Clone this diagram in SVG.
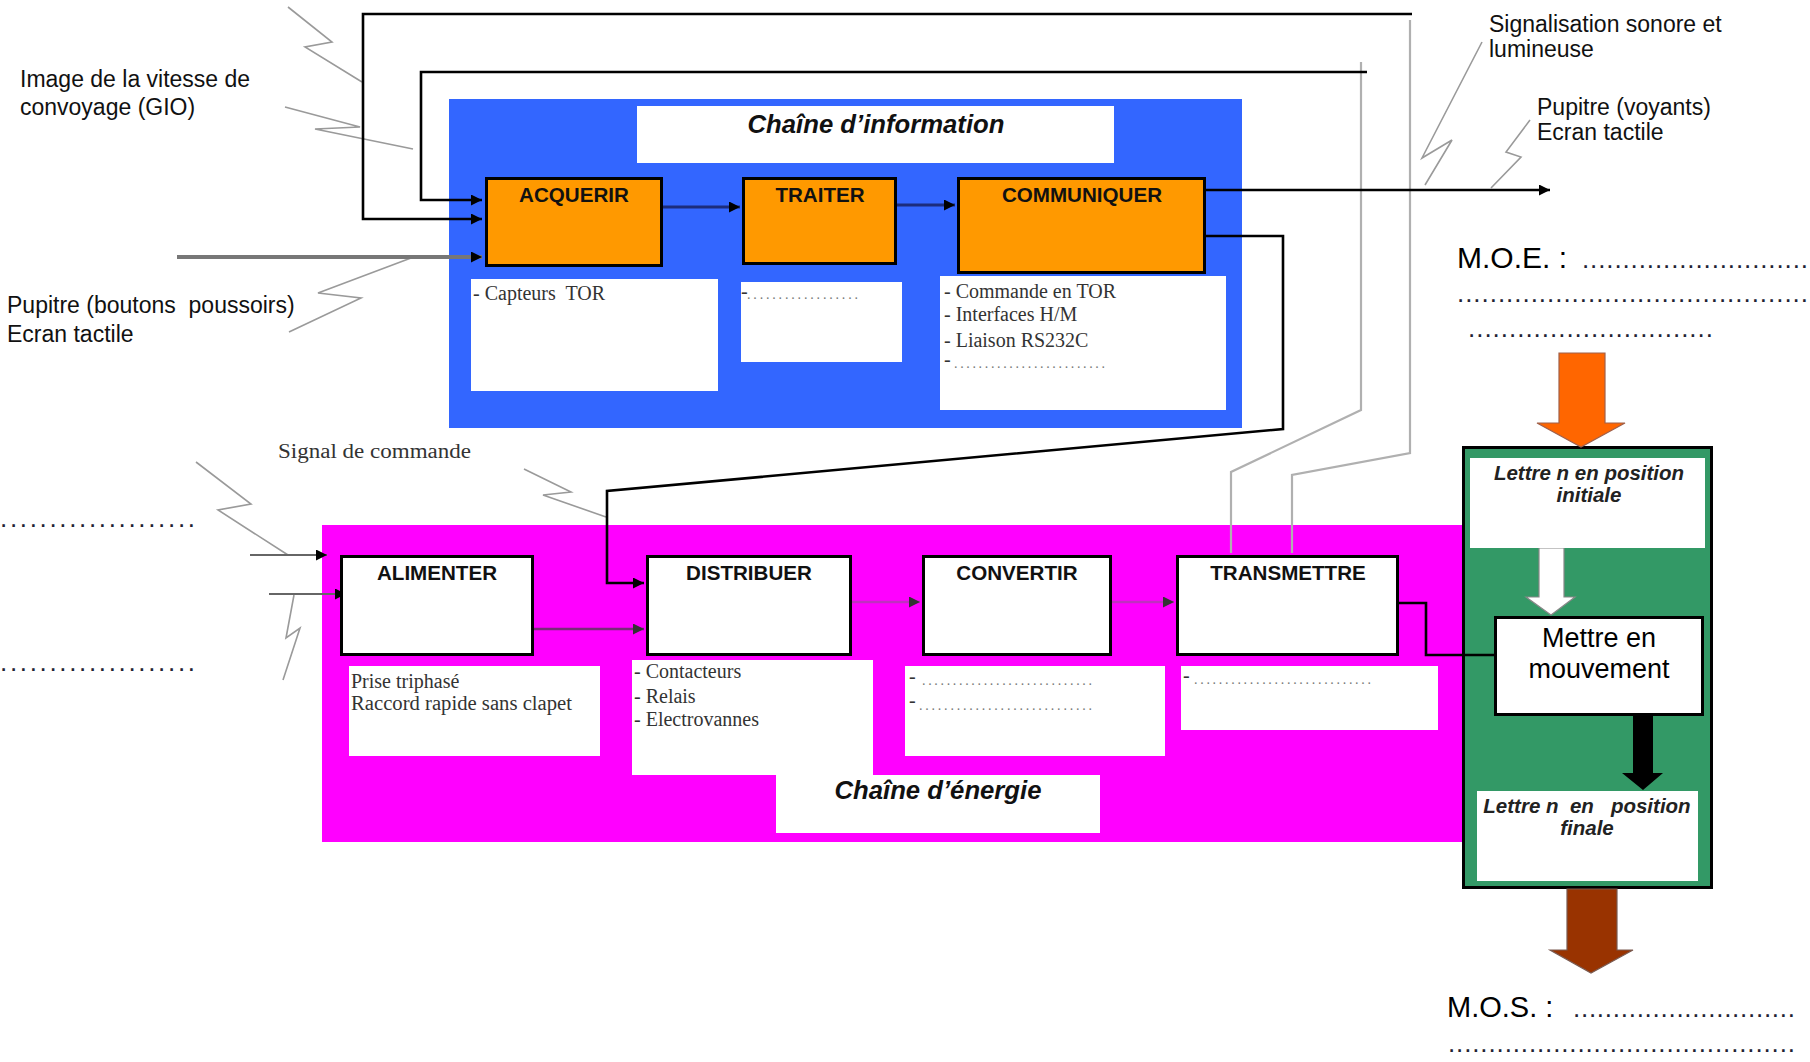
<svg xmlns="http://www.w3.org/2000/svg" width="1810" height="1062" viewBox="0 0 1810 1062">
<style>
.sans{font-family:"Liberation Sans",Arial,sans-serif;fill:#000}
.lbl{font-family:"Liberation Sans",Arial,sans-serif;font-size:23px;fill:#111}
.box{font-family:"Liberation Sans",Arial,sans-serif;font-size:20.6px;font-weight:bold;fill:#111;text-anchor:middle}
.ser{font-family:"Liberation Serif","Times New Roman",serif;font-size:20px;fill:#333}
.dots{font-family:"Liberation Serif","Times New Roman",serif;font-size:14px;fill:#777}
.dotsd{font-family:"Liberation Sans",Arial,sans-serif;font-size:26px;fill:#223}
.title{font-family:"Liberation Sans",Arial,sans-serif;font-size:25.7px;font-weight:bold;font-style:italic;fill:#111;text-anchor:middle}
.lettre{font-family:"Liberation Sans",Arial,sans-serif;font-size:20.5px;font-weight:bold;font-style:italic;fill:#222;text-anchor:middle}
.fb{fill:#FF9900;stroke:#000;stroke-width:3}
.wb{fill:#fff;stroke:#000;stroke-width:3}
.bolt{fill:none;stroke:#9a9a9a;stroke-width:1.6}
.k{fill:none;stroke:#000;stroke-width:2.6}
.g{fill:none;stroke:#b0b0b0;stroke-width:2.2}
</style>
<defs>
<marker id="ah" viewBox="0 0 10 10" refX="10" refY="5" markerWidth="12" markerHeight="11" markerUnits="userSpaceOnUse" orient="auto"><path d="M0,0 L10,5 L0,10 z" fill="#000"/></marker>
<marker id="ahg" viewBox="0 0 10 10" refX="10" refY="5" markerWidth="12" markerHeight="11" markerUnits="userSpaceOnUse" orient="auto"><path d="M0,0 L10,5 L0,10 z" fill="#333"/></marker>
</defs>
<rect width="1810" height="1062" fill="#fff"/>

<!-- background chain frames -->
<g id="chaine-information">
<rect x="449" y="99" width="793" height="329" fill="#3366FF"/>
<rect x="637" y="106" width="477" height="57" fill="#fff"/>
<text class="title" x="876" y="133">Chaîne d’information</text>
</g>
<g id="chaine-energie">
<rect x="322" y="525" width="1140" height="317" fill="#FF00FF"/>
<rect x="776" y="775" width="324" height="58" fill="#fff"/>
<text class="title" x="938" y="799">Chaîne d’énergie</text>
</g>
<g id="partie-operative">
<rect x="1463.5" y="447.5" width="248" height="440" fill="#339966" stroke="#000" stroke-width="3"/>
</g>

<!-- lightning bolts -->
<g id="bolts">
<polyline class="bolt" points="288,7 332,42 305,47 362,82"/>
<polyline class="bolt" points="285,107 360,127 315,129 413,149"/>
<polyline class="bolt" points="411,258 318,293 361,298 289,332"/>
<polyline class="bolt" points="1482,42 1422,158 1452,140 1425,185" stroke="#c8c8c8"/>
<polyline class="bolt" points="1530,120 1506,152 1521,157 1491,188"/>
<polyline class="bolt" points="196,462 251,504 218,510 288,555"/>
<polyline class="bolt" points="524,469 571,492 543,495 606,517"/>
<polyline class="bolt" points="294,595 286,638 300,628 283,680" stroke="#cfcfcf"/>
</g>

<!-- connectors -->
<g id="connectors">
<polyline class="g" points="1292,553 1292,475 1410,453 1410,20"/>
<polyline class="k" points="1412,14 363,14 363,219 482,219" marker-end="url(#ah)"/>
<polyline class="g" points="1231,553 1231,472 1361,410 1361,62" stroke="#d4d4d4"/>
<polyline class="k" points="1367,72 421,72 421,200 482,200" marker-end="url(#ah)"/>
<line x1="177" y1="257" x2="482" y2="257" stroke="#777" stroke-width="4" marker-end="url(#ah)"/>
<line x1="663" y1="207" x2="740" y2="207" stroke="#1c2c7c" stroke-width="3" marker-end="url(#ah)"/>
<line x1="897" y1="205" x2="955" y2="205" stroke="#1c2c7c" stroke-width="3" marker-end="url(#ah)"/>
<line x1="1206" y1="190" x2="1550" y2="190" class="k" marker-end="url(#ah)"/>
<polyline class="k" points="1206,236 1283,236 1283,429 607,491 607,583 644,583" marker-end="url(#ah)"/>
<line x1="250" y1="555" x2="327" y2="555" stroke="#666" stroke-width="2.2" marker-end="url(#ah)"/>
<line x1="269" y1="594" x2="346" y2="594" stroke="#666" stroke-width="2.2" marker-end="url(#ah)"/>
<line x1="534" y1="629" x2="644" y2="629" stroke="#7a2a7a" stroke-width="2.4" marker-end="url(#ahg)"/>
<line x1="852" y1="602" x2="920" y2="602" stroke="#c030c0" stroke-width="2.6" marker-end="url(#ahg)"/>
<line x1="1112" y1="602" x2="1174" y2="602" stroke="#c030c0" stroke-width="2.6" marker-end="url(#ahg)"/>
<polyline class="k" points="1399,603 1426,603 1426,655 1499,655"/>
<path d="M1559,353 H1605 V423 H1625 L1581,447 L1537,423 H1559 Z" fill="#FF6600" stroke="#a0604a" stroke-width="1.2"/>
<path d="M1539,548 H1564 V597 H1575 L1551,615 L1526,597 H1539 Z" fill="#fff" stroke="#888" stroke-width="1.2"/>
<path d="M1633,716 H1653 V773 H1663 L1643,790 L1622,773 H1633 Z" fill="#000"/>
<path d="M1567,889 H1617 V950 H1633 L1591,973 L1550,950 H1567 Z" fill="#993300" stroke="#7a5a50" stroke-width="1.2"/>
</g>

<!-- information chain nodes -->
<g id="acquerir">
<rect class="fb" x="486.5" y="178.5" width="175" height="87"/>
<text class="box" x="574" y="202">ACQUERIR</text>
</g>
<g id="acquerir-notes">
<rect x="471" y="279" width="247" height="112" fill="#fff"/>
<text class="ser" x="473" y="300" xml:space="preserve">- Capteurs  TOR</text>
</g>
<g id="traiter">
<rect class="fb" x="743.5" y="178.5" width="152" height="85"/>
<text class="box" x="820" y="202">TRAITER</text>
</g>
<g id="traiter-notes">
<rect x="741" y="282" width="161" height="80" fill="#fff"/>
<text class="ser" x="741" y="298" font-size="16">-</text>
<text class="dots" x="747" y="299" textLength="111" lengthAdjust="spacing">..................</text>
</g>
<g id="communiquer">
<rect class="fb" x="958.5" y="178.5" width="246" height="94"/>
<text class="box" x="1082" y="202">COMMUNIQUER</text>
</g>
<g id="communiquer-notes">
<rect x="940" y="276" width="286" height="134" fill="#fff"/>
<text class="ser" x="944" y="298">- Commande en TOR</text>
<text class="ser" x="944" y="321">- Interfaces H/M</text>
<text class="ser" x="944" y="347">- Liaison RS232C</text>
<text class="ser" x="944" y="366" font-size="16">-</text>
<text class="dots" x="954" y="368" textLength="151" lengthAdjust="spacing">.........................</text>
</g>

<!-- energy chain nodes -->
<g id="alimenter">
<rect class="wb" x="341.5" y="556.5" width="191" height="98"/>
<text class="box" x="437" y="580">ALIMENTER</text>
</g>
<g id="alimenter-notes">
<rect x="349" y="666" width="251" height="90" fill="#fff"/>
<text class="ser" x="351" y="688">Prise triphasé</text>
<text class="ser" x="351" y="710" textLength="221" lengthAdjust="spacingAndGlyphs">Raccord rapide sans clapet</text>
</g>
<g id="distribuer">
<rect class="wb" x="647.5" y="556.5" width="203" height="98"/>
<text class="box" x="749" y="580">DISTRIBUER</text>
</g>
<g id="distribuer-notes">
<rect x="632" y="660" width="241" height="115" fill="#fff"/>
<text class="ser" x="634" y="678">- Contacteurs</text>
<text class="ser" x="634" y="703">- Relais</text>
<text class="ser" x="634" y="726">- Electrovannes</text>
</g>
<g id="convertir">
<rect class="wb" x="923.5" y="556.5" width="187" height="98"/>
<text class="box" x="1017" y="580">CONVERTIR</text>
</g>
<g id="convertir-notes">
<rect x="905" y="666" width="260" height="90" fill="#fff"/>
<text class="ser" x="909" y="683" font-size="16">-</text>
<text class="dots" x="922" y="685" textLength="170" lengthAdjust="spacing">............................</text>
<text class="ser" x="909" y="707" font-size="16">-</text>
<text class="dots" x="919" y="710" textLength="173" lengthAdjust="spacing">............................</text>
</g>
<g id="transmettre">
<rect class="wb" x="1177.5" y="556.5" width="220" height="98"/>
<text class="box" x="1288" y="580">TRANSMETTRE</text>
</g>
<g id="transmettre-notes">
<rect x="1181" y="666" width="257" height="64" fill="#fff"/>
<text class="ser" x="1183" y="682" font-size="16">-</text>
<text class="dots" x="1194" y="684" textLength="177" lengthAdjust="spacing">.............................</text>
</g>

<!-- operative part -->
<g id="position-initiale">
<rect x="1470" y="458" width="235" height="90" fill="#fff"/>
<text class="lettre" x="1589" y="480">Lettre n en position</text>
<text class="lettre" x="1589" y="502">initiale</text>
</g>
<g id="mettre-en-mouvement">
<rect class="wb" x="1495.5" y="617.5" width="207" height="97"/>
<text class="sans" x="1599" y="647" font-size="27" text-anchor="middle">Mettre en</text>
<text class="sans" x="1599" y="678" font-size="27" text-anchor="middle">mouvement</text>
</g>
<g id="position-finale">
<rect x="1477" y="791" width="221" height="90" fill="#fff"/>
<text class="lettre" x="1587" y="813" xml:space="preserve">Lettre n  en   position</text>
<text class="lettre" x="1587" y="835">finale</text>
</g>

<!-- free labels -->
<g id="labels">
<text class="lbl" x="20" y="87">Image de la vitesse de</text>
<text class="lbl" x="20" y="115">convoyage (GIO)</text>
<text class="lbl" x="7" y="313" xml:space="preserve">Pupitre (boutons  poussoirs)</text>
<text class="lbl" x="7" y="342">Ecran tactile</text>
<text class="lbl" x="1489" y="32">Signalisation sonore et</text>
<text class="lbl" x="1489" y="57">lumineuse</text>
<text class="lbl" x="1537" y="115">Pupitre (voyants)</text>
<text class="lbl" x="1537" y="140">Ecran tactile</text>
<text class="ser" x="278" y="458" font-size="23" fill="#444" textLength="193" lengthAdjust="spacingAndGlyphs">Signal de commande</text>
<text class="dotsd" x="0" y="527" font-size="20" textLength="195" lengthAdjust="spacing">....................</text>
<text class="dotsd" x="0" y="671" font-size="20" textLength="195" lengthAdjust="spacing">....................</text>
<text class="sans" x="1457" y="268" font-size="30" fill="#111">M.O.E. :</text>
<text class="dotsd" x="1582" y="268" textLength="226" lengthAdjust="spacing">............................</text>
<text class="dotsd" x="1457" y="302" textLength="351" lengthAdjust="spacing">...........................................</text>
<text class="dotsd" x="1468" y="337" textLength="245" lengthAdjust="spacing">..............................</text>
<text class="sans" x="1447" y="1017" font-size="29" fill="#111">M.O.S. :</text>
<text class="dotsd" x="1573" y="1017" textLength="222" lengthAdjust="spacing">............................</text>
<text class="dotsd" x="1448" y="1052" textLength="347" lengthAdjust="spacing">...........................................</text>
</g>
</svg>
